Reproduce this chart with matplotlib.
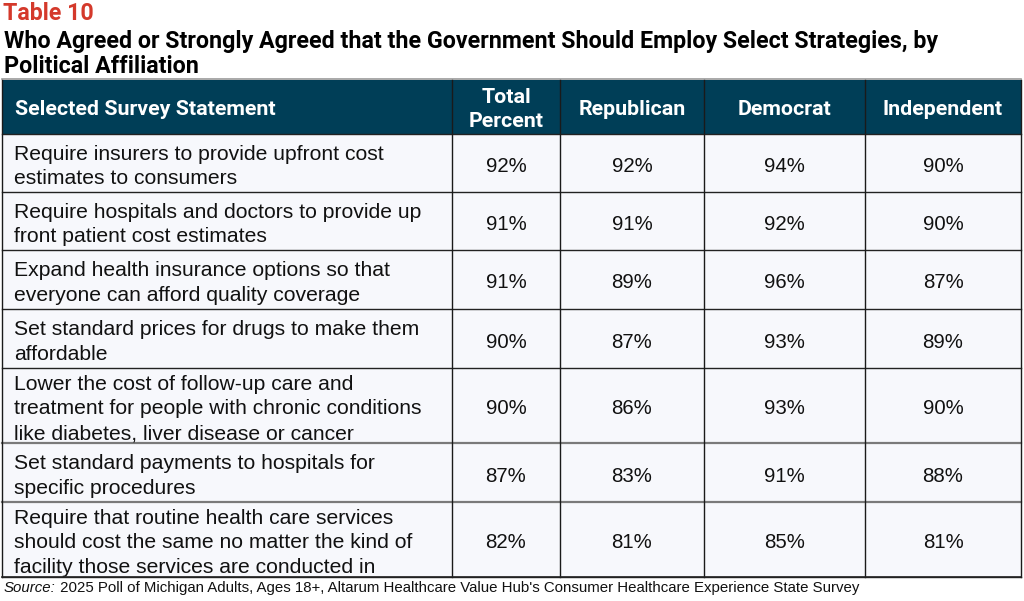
import matplotlib
matplotlib.use("Agg")
import matplotlib.pyplot as plt
from matplotlib.patches import Rectangle

BOLD = ['Roboto', 'Liberation Sans', 'DejaVu Sans']
SANS = ['Liberation Sans', 'DejaVu Sans']

table_label = "Table 10"
title_lines = ["Who Agreed or Strongly Agreed that the Government Should Employ Select Strategies, by",
               "Political Affiliation"]
columns = ["Selected Survey Statement", "Total\nPercent", "Republican", "Democrat", "Independent"]
statements = [
    "Require insurers to provide upfront cost\nestimates to consumers",
    "Require hospitals and doctors to provide up\nfront patient cost estimates",
    "Expand health insurance options so that\neveryone can afford quality coverage",
    "Set standard prices for drugs to make them\naffordable",
    "Lower the cost of follow-up care and\ntreatment for people with chronic conditions\nlike diabetes, liver disease or cancer",
    "Set standard payments to hospitals for\nspecific procedures",
    "Require that routine health care services\nshould cost the same no matter the kind of\nfacility those services are conducted in",
]
total = [92, 91, 91, 90, 90, 87, 82]
republican = [92, 91, 89, 87, 86, 83, 81]
democrat = [94, 92, 96, 93, 93, 91, 85]
independent = [90, 90, 87, 89, 90, 88, 81]
source_label = "Source:"
source = " 2025 Poll of Michigan Adults, Ages 18+, Altarum Healthcare Value Hub's Consumer Healthcare Experience State Survey"

W, H = 1024, 601
fig = plt.figure(figsize=(W/100, H/100), dpi=100)
ax = fig.add_axes([0, 0, 1, 1])
ax.set_xlim(0, W)
ax.set_ylim(H, 0)
ax.axis('off')
renderer = fig.canvas.get_renderer()

def fitted_size(s, target, family, weight='normal', style='normal', base=12):
    t = ax.text(0, 0, s, fontsize=base, family=family, fontweight=weight, style=style)
    w = t.get_window_extent(renderer).width
    t.remove()
    return base * target / w

HEAD = '#003E57'
CELL = '#F7F8FC'
RED = '#D4392B'
DARK = '#111111'

col_edges = [2, 452, 560, 704, 865, 1021]
row_edges = [80, 134, 192, 250, 309, 368, 443, 502, 577]

# font sizes fitted to the reference text widths
fs_label = fitted_size(table_label, 90, BOLD, 'bold')
fs_title = fitted_size(title_lines[0], 931, BOLD, 'bold')
fs_head = fitted_size(columns[0], 260, BOLD, 'bold')
fs_body = fitted_size("treatment for people with chronic conditions", 408, SANS)
fs_num = fitted_size("92%", 41, SANS)
fs_src = fitted_size("Source: 2025 Poll of Michigan Adults, Ages 18+, Altarum Healthcare Value Hub's Consumer Healthcare Experience State Survey", 858, SANS)

# title
ax.text(3, 20, table_label, color=RED, fontsize=fs_label, fontweight='bold', family=BOLD, va='baseline', ha='left')
ax.text(4, 48, title_lines[0], color='black', fontsize=fs_title, fontweight='bold', family=BOLD, va='baseline', ha='left')
ax.text(4, 73, title_lines[1], color='black', fontsize=fs_title, fontweight='bold', family=BOLD, va='baseline', ha='left')

# header
ax.add_patch(Rectangle((col_edges[0], row_edges[0]), col_edges[-1]-col_edges[0], row_edges[1]-row_edges[0],
                       facecolor=HEAD, edgecolor='none', zorder=1))
hc = (row_edges[0] + row_edges[1]) / 2
for j, c in enumerate(columns):
    lines = c.split("\n")
    n = len(lines)
    for k, ln in enumerate(lines):
        yb = hc + 8 + (k - (n-1)/2) * 24
        if j == 0:
            ax.text(col_edges[0]+13, yb, ln, color='white', fontsize=fs_head, fontweight='bold',
                    family=BOLD, va='baseline', ha='left')
        else:
            ax.text((col_edges[j]+col_edges[j+1])/2, yb, ln, color='white', fontsize=fs_head,
                    fontweight='bold', family=BOLD, va='baseline', ha='center')

# body
ax.add_patch(Rectangle((col_edges[0], row_edges[1]), col_edges[-1]-col_edges[0], row_edges[-1]-row_edges[1],
                       facecolor=CELL, edgecolor='none', zorder=0))
for i, s in enumerate(statements):
    y0, y1 = row_edges[i+1], row_edges[i+2]
    rc = (y0 + y1) / 2
    lines = s.split("\n")
    n = len(lines)
    for k, ln in enumerate(lines):
        yb = rc + 9 + (k - (n-1)/2) * 24.5
        ax.text(col_edges[0]+12, yb, ln, color=DARK, fontsize=fs_body, family=SANS, va='baseline', ha='left')
    for j, vals in enumerate([total, republican, democrat, independent]):
        ax.text((col_edges[j+1]+col_edges[j+2])/2, rc + 9, f"{vals[i]}%", color=DARK, fontsize=fs_num,
                family=SANS, va='baseline', ha='center')

# grid lines
ax.plot([col_edges[0], col_edges[-1]], [row_edges[0]-1, row_edges[0]-1], color='#9a9a9a', lw=1.2, zorder=2)
for k, y in enumerate(row_edges[1:]):
    gray = k in (5, 6)
    ax.plot([col_edges[0], col_edges[-1]], [y, y], color='#7a7a7a' if gray else '#222222',
            lw=1.6 if gray else 1.0, zorder=2)
ax.plot([col_edges[0], col_edges[-1]], [row_edges[-1], row_edges[-1]], color='#222222', lw=1.2, zorder=3)
for x in col_edges:
    ax.plot([x, x], [row_edges[0], row_edges[-1]], color='#1a1a1a', lw=1.0, zorder=2)

# source
t = ax.text(4, 592, source_label, fontsize=fs_src, style='italic', family=SANS, va='baseline', ha='left', color=DARK)
w = t.get_window_extent(renderer).width
ax.text(4 + w, 592, source, fontsize=fs_src, family=SANS, va='baseline', ha='left', color=DARK)

fig.savefig('out.png', dpi=100)
